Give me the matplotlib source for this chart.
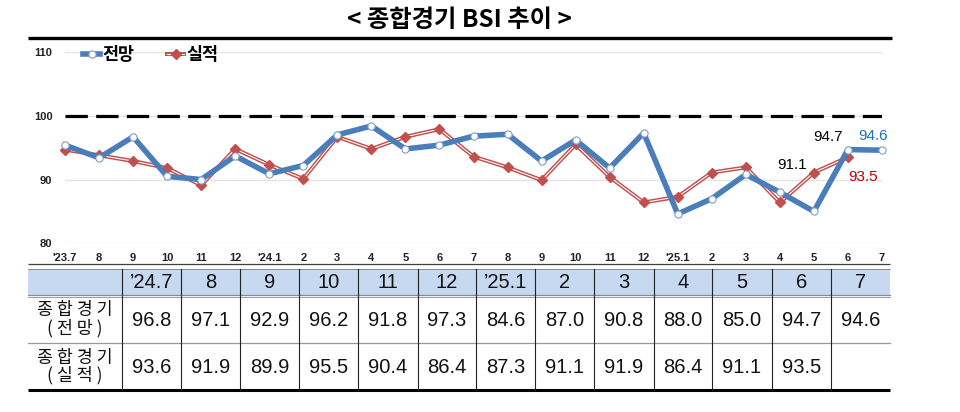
import matplotlib
matplotlib.use("Agg")
import matplotlib.pyplot as plt
from matplotlib import font_manager as fm
from matplotlib.font_manager import FontProperties

# ---------------- data ----------------
x_labels = ["'23.7", "8", "9", "10", "11", "12", "'24.1", "2", "3", "4", "5", "6",
            "7", "8", "9", "10", "11", "12", "'25.1", "2", "3", "4", "5", "6", "7"]
forecast = [95.4, 93.4, 96.7, 90.5, 90.0, 93.7, 90.9, 92.2, 97.0, 98.4, 94.8, 95.4,
            96.8, 97.1, 92.9, 96.2, 91.8, 97.3, 84.6, 87.0, 90.8, 88.0, 85.0, 94.7, 94.6]
actual = [94.7, 93.8, 92.9, 91.8, 89.1, 94.8, 92.3, 90.1, 96.7, 94.8, 96.7, 97.9,
          93.6, 91.9, 89.9, 95.5, 90.4, 86.4, 87.3, 91.1, 91.9, 86.4, 91.1, 93.5]
y_ticks = [80, 90, 100, 110]
series_names = ["전망", "실적"]
title = "< 종합경기 BSI 추이 >"

table_cols = ["\u201924.7", "8", "9", "10", "11", "12", "\u201925.1", "2", "3", "4", "5", "6", "7"]
table_row_labels = [("종 합 경 기", "( 전 망 )"), ("종 합 경 기", "( 실 적 )")]
table_start = 12  # index of '24.7 in the series

# ---------------- fonts ----------------
def has_font(name):
    try:
        fm.findfont(FontProperties(family=name), fallback_to_default=False)
        return True
    except Exception:
        return False

HAS_NARROW = has_font("Liberation Sans Narrow")
NARROW = "Liberation Sans Narrow" if HAS_NARROW else "Liberation Sans"
KR = "Noto Sans CJK KR"
plt.rcParams["font.family"] = [KR, "DejaVu Sans"]

BLUE = "#4a7ebb"
RED = "#c0504d"

W, H = 960, 412
fig = plt.figure(figsize=(9.6, 4.12), dpi=100)
fig.patch.set_facecolor("white")

# overlay axes in pixel coordinates for title / rules / table
ov = fig.add_axes([0, 0, 1, 1])
ov.set_xlim(0, W)
ov.set_ylim(H, 0)
ov.axis("off")

# title and rules
ov.text(459, 20, title, ha="center", va="center", fontsize=17.5, fontweight="bold",
        family=[KR, "DejaVu Sans"])
ov.plot([28, 892], [38, 38], color="black", lw=2.4, solid_capstyle="butt")
ov.plot([28, 890], [264, 264], color="#404040", lw=0.9, solid_capstyle="butt")

# ---------------- chart ----------------
x0_px, x1_px = 65, 882
y80_px, y110_px = 243.3, 52
ax = fig.add_axes([x0_px / W, 1 - y80_px / H, (x1_px - x0_px) / W, (y80_px - y110_px) / H])
ax.set_facecolor("none")
ax.set_xlim(0, len(x_labels) - 1)
ax.set_ylim(80, 110)
ax.set_yticks(y_ticks)
ax.set_xticks(range(len(x_labels)))
ax.set_xticklabels(x_labels)
for s in ax.spines.values():
    s.set_visible(False)
ax.tick_params(length=0)
ax.tick_params(axis="y", pad=9)
ax.tick_params(axis="x", pad=7)
for lbl in ax.get_xticklabels() + ax.get_yticklabels():
    lbl.set_fontfamily(NARROW)
    lbl.set_fontsize(8.5 if HAS_NARROW else 8)
    lbl.set_fontweight("bold")
    lbl.set_color("#222222")
ax.grid(axis="y", color="#e4e4e4", lw=1.0)
ax.set_axisbelow(True)

ax.axhline(100, color="black", lw=2.3, dashes=(7, 2.6), zorder=2)

xs_f = list(range(len(forecast)))
xs_a = list(range(len(actual)))
red_outer, = ax.plot(xs_a, actual, color=RED, lw=2.9, zorder=3, clip_on=False,
                     solid_joinstyle="miter")
red_inner, = ax.plot(xs_a, actual, color="white", lw=0.8, zorder=3.1, clip_on=False)
red_mk, = ax.plot(xs_a, actual, ls="none", marker="D", ms=4.6, color=RED, zorder=3.2,
                  clip_on=False)
blue_line, = ax.plot(xs_f, forecast, color=BLUE, lw=4.0, zorder=4, clip_on=False,
                     marker="o", ms=5.2, mfc="white", mec="#7d9dc9", mew=0.8)

leg = ax.legend(handles=[blue_line, (red_outer, red_inner, red_mk)], labels=series_names,
                loc="upper left", bbox_to_anchor=(83 / W, 1 - 46 / H),
                bbox_transform=fig.transFigure, ncol=2, frameon=False,
                borderpad=0, borderaxespad=0, handlelength=1.0, handletextpad=0.1,
                columnspacing=1.9, prop=FontProperties(family=KR, weight="bold", size=12.5))

# value annotations
ann_font = dict(family=NARROW, fontsize=13 if HAS_NARROW else 11)
ax.annotate(f"{forecast[23]:.1f}", (23, forecast[23]), xytext=(-20, 13),
            textcoords="offset pixels", ha="center", va="center", color="black", **ann_font)
ax.annotate(f"{forecast[24]:.1f}", (24, forecast[24]), xytext=(-9, 14),
            textcoords="offset pixels", ha="center", va="center", color="#1f70c1", **ann_font)
ax.annotate(f"{actual[22]:.1f}", (22, actual[22]), xytext=(-22, 8),
            textcoords="offset pixels", ha="center", va="center", color="black", **ann_font)
ax.annotate(f"{actual[23]:.1f}", (23, actual[23]), xytext=(15, -20),
            textcoords="offset pixels", ha="center", va="center", color="#c00000", **ann_font)

# ---------------- table ----------------
col_edges = [28, 122, 181, 240, 299, 358, 418, 476, 535, 594, 654, 712, 772, 831, 890]
hdr_top, hdr_bot, r1_bot, r2_bot = 269, 295, 343, 390

ov.add_patch(plt.Rectangle((col_edges[0], hdr_top), col_edges[-1] - col_edges[0],
                           hdr_bot - hdr_top, facecolor="#c6d9f1", edgecolor="none"))
# horizontal rules
ov.plot([28, 890], [hdr_top, hdr_top], color="#7f7f7f", lw=0.6)
ov.plot([28, 890], [hdr_bot, hdr_bot], color="#8a8a8a", lw=0.9)
ov.plot([28, 890], [hdr_bot + 2, hdr_bot + 2], color="#8a8a8a", lw=0.6)
ov.plot([28, 890], [r1_bot, r1_bot], color="#9a9a9a", lw=0.9)
ov.plot([28, 890], [r2_bot, r2_bot], color="black", lw=2.2, solid_capstyle="butt")
# vertical rules
for xe in col_edges[1:-1]:
    ov.plot([xe, xe], [hdr_top, r2_bot], color="#222222", lw=0.8)

val_font = dict(family="Liberation Sans", fontsize=14.5, color="#111111")
for i, lab in enumerate(table_cols):
    cx = (col_edges[i + 1] + col_edges[i + 2]) / 2
    ov.text(cx, (hdr_top + hdr_bot) / 2 + 1, lab, ha="center", va="center", **val_font)

rows_vals = [forecast[table_start:], actual[table_start:]]
row_bounds = [(hdr_bot, r1_bot), (r1_bot, r2_bot)]
for r, (vals, (top, bot)) in enumerate(zip(rows_vals, row_bounds)):
    cy = (top + bot) / 2
    l1, l2 = table_row_labels[r]
    cx0 = (col_edges[0] + col_edges[1]) / 2
    ov.text(cx0, cy - 9, l1, ha="center", va="center", fontsize=12.5,
            family=[KR, "DejaVu Sans"], color="#111111")
    ov.text(cx0, cy + 9, l2, ha="center", va="center", fontsize=12.5,
            family=[KR, "DejaVu Sans"], color="#111111")
    for i, v in enumerate(vals):
        cx = (col_edges[i + 1] + col_edges[i + 2]) / 2
        ov.text(cx, cy + 1, f"{v:.1f}", ha="center", va="center", **val_font)

fig.savefig("out.png", dpi=100, facecolor="white")
